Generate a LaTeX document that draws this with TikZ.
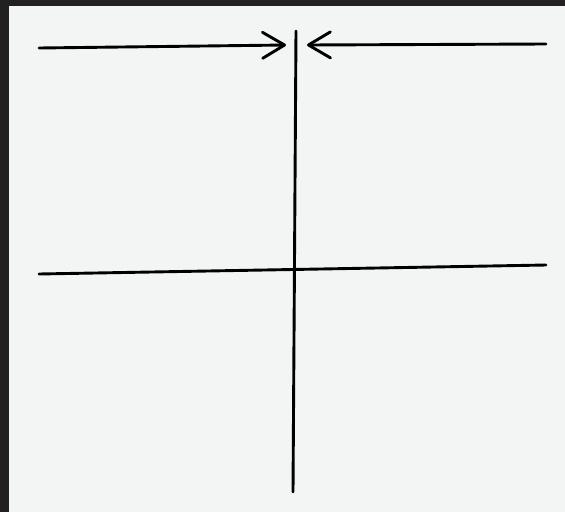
\documentclass[tikz,border=0pt]{standalone}
\usetikzlibrary{arrows.meta}
\definecolor{cframe}{HTML}{232021}
\definecolor{cpaper}{HTML}{F3F5F4}
\tikzset{
  every picture/.style={line width=2.9pt, line cap=round},
  stroke/.style={draw=black},
  arrow/.style={stroke, -{Straight Barb[length=22pt, width=26pt, round]}},
}
\begin{document}
\begin{tikzpicture}[x=1pt, y=-1pt]
  % frame and paper
  \fill[cframe] (0,0) rectangle (565,512);
  \fill[cpaper] (9,6) rectangle (565,512);
  \useasboundingbox (0,0) rectangle (565,512);
  % ends of the strokes
  \coordinate (ltail) at (39,48);
  \coordinate (lhead) at (286,45);
  \coordinate (rtail) at (546,44);
  \coordinate (rhead) at (307,45);
  \coordinate (vtop) at (296,31);
  \coordinate (vbot) at (293,492);
  \coordinate (hleft) at (39,274);
  \coordinate (hright) at (546,265);
  \draw[stroke] (vtop) -- (vbot);
  \draw[stroke] (hleft) -- (hright);
  \draw[arrow] (ltail) -- (lhead);
  \draw[arrow] (rtail) -- (rhead);
\end{tikzpicture}
\end{document}
